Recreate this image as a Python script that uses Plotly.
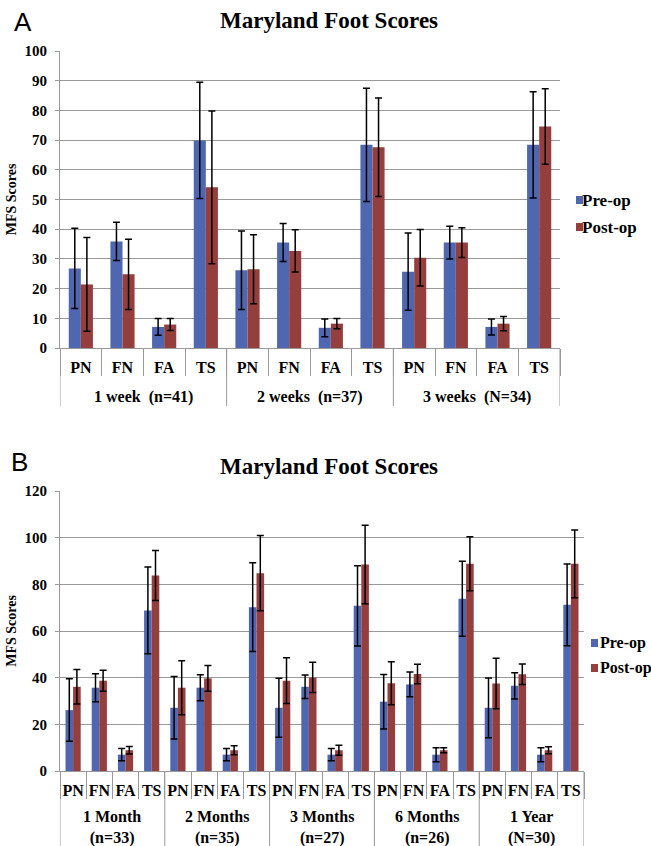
import plotly.graph_objects as go

W, H = 651, 846

categories = ["PN", "FN", "FA", "TS"]
groups_A = ["1 week\u00a0\u00a0(n=41)", "2 weeks\u00a0\u00a0(n=37)", "3 weeks\u00a0\u00a0(N=34)"]
groups_B = ["1 Month<br>(n=33)", "2 Months<br>(n=35)", "3 Months<br>(n=27)",
            "6 Months<br>(n=26)", "1 Year<br>(N=30)"]

pre_A = [26.8, 35.9, 7.1, 69.9, 26.2, 35.5, 6.8, 68.4, 25.7, 35.5, 7.1, 68.4]
pre_A_err = [13.5, 6.4, 2.8, 19.6, 13.2, 6.4, 3.0, 19.1, 13.0, 5.5, 2.7, 17.9]
post_A = [21.4, 24.8, 7.9, 54.1, 26.5, 32.7, 8.2, 67.6, 30.4, 35.5, 8.2, 74.6]
post_A_err = [15.8, 11.8, 2.0, 25.7, 11.6, 7.1, 1.7, 16.6, 9.5, 5.0, 2.4, 12.7]

pre_B = [26.1, 35.7, 7.0, 68.8, 27.1, 35.7, 7.0, 70.2, 27.1, 36.1, 7.0, 70.8,
         29.7, 37.1, 7.0, 73.8, 27.1, 36.5, 7.0, 71.2]
pre_B_err = [13.4, 6.0, 2.6, 18.6, 13.4, 5.6, 2.6, 19.0, 12.6, 5.0, 2.6, 17.2,
             11.7, 5.3, 3.0, 16.1, 12.8, 5.6, 3.0, 17.5]
post_B = [36.1, 38.7, 8.9, 83.8, 35.7, 39.7, 8.9, 84.8, 38.7, 40.1, 8.9, 88.5,
          37.6, 41.6, 8.9, 88.8, 37.5, 41.5, 8.9, 88.8]
post_B_err = [7.4, 4.5, 1.6, 10.7, 11.6, 5.5, 1.9, 16.1, 9.8, 6.5, 2.1, 16.8,
              9.2, 4.2, 1.1, 11.6, 10.8, 4.4, 1.5, 14.5]

series_names = ["Pre-op", "Post-op"]
colors = ["#4F66B1", "#953E3E"]

SERIF = "Liberation Serif"
GRID = "#999999"


def px(x):
    return x / W


def py(y):
    return 1 - y / H


nA = len(groups_A) * len(categories)
nB = len(groups_B) * len(categories)
posA = list(range(nA))
posB = list(range(nB))
labelsA = categories * len(groups_A)
labelsB = categories * len(groups_B)

fig = go.Figure()
err_style = dict(type="data", color="black", thickness=1.5, width=3.5)

for vals, errs, name, col in [(pre_A, pre_A_err, series_names[0], colors[0]),
                              (post_A, post_A_err, series_names[1], colors[1])]:
    fig.add_trace(go.Bar(x=posA, y=vals, name=name, marker_color=col, marker_line_width=0,
                         error_y=dict(array=errs, **err_style),
                         xaxis="x", yaxis="y", showlegend=False))
for vals, errs, name, col in [(pre_B, pre_B_err, series_names[0], colors[0]),
                              (post_B, post_B_err, series_names[1], colors[1])]:
    fig.add_trace(go.Bar(x=posB, y=vals, name=name, marker_color=col, marker_line_width=0,
                         error_y=dict(array=errs, **err_style),
                         xaxis="x2", yaxis="y2", showlegend=False))

tickfont = dict(family=SERIF, size=16, color="black", weight="bold")


def xaxis_cfg(n, labels, dom):
    return dict(domain=dom, range=[-0.5, n - 0.5], tickmode="array", tickvals=list(range(n)),
                ticktext=labels, ticks="", showline=True, linecolor=GRID, linewidth=1,
                tickfont=tickfont, tickangle=0, showgrid=False, zeroline=False,
                ticklabelstandoff=5, automargin=False,
                minor=dict(tickmode="array", tickvals=[i - 0.5 for i in range(n + 1)],
                           ticks="outside", ticklen=27, tickcolor=GRID, tickwidth=1, showgrid=False))


ycommon = dict(showgrid=True, gridcolor=GRID, gridwidth=1, showline=True, linecolor=GRID,
               ticks="outside", ticklen=4, tickcolor=GRID, zeroline=False,
               tickfont=dict(family=SERIF, size=15, color="black", weight="bold"),
               ticklabelstandoff=5, automargin=False)
ytitle = dict(text="MFS Scores", font=dict(family=SERIF, size=14, color="black", weight="bold"),
              standoff=4)

fig.update_layout(
    width=W, height=H,
    margin=dict(l=0, r=0, t=0, b=0),
    paper_bgcolor="white", plot_bgcolor="white",
    barmode="group", bargap=0.42, bargroupgap=0,
    showlegend=False,
    xaxis=dict(anchor="y", **xaxis_cfg(nA, labelsA, [px(60), px(560)])),
    yaxis=dict(domain=[py(348), py(51)], anchor="x", range=[0, 100], dtick=10,
               title=ytitle, **ycommon),
    xaxis2=dict(anchor="y2", **xaxis_cfg(nB, labelsB, [px(60), px(584)])),
    yaxis2=dict(domain=[py(771), py(491)], anchor="x2", range=[0, 120], dtick=20,
                title=ytitle, **ycommon),
)

ann = []
shapes = []

# group labels and group dividers
for groups, xr, yl, ytop, ybot in [(groups_A, "x", 397, 348, 406), (groups_B, "x2", 827, 771, 846)]:
    k = len(categories)
    for gi, g in enumerate(groups):
        ann.append(dict(text=g, x=gi * k + (k - 1) / 2, y=py(yl), xref=xr, yref="paper",
                        xanchor="center", yanchor="middle", showarrow=False,
                        font=dict(family=SERIF, size=16, color="black", weight="bold")))
    for gi in range(len(groups) + 1):
        shapes.append(dict(type="line", xref=xr, yref="paper", x0=gi * k - 0.5, x1=gi * k - 0.5,
                           y0=py(ytop), y1=py(ybot), line=dict(color=GRID, width=1)))

# panel letters
ann.append(dict(text="A", x=px(12), y=py(22), xref="paper", yref="paper", xanchor="left", yanchor="middle",
                showarrow=False, font=dict(family="Liberation Sans", size=26, color="black")))
ann.append(dict(text="B", x=px(9), y=py(462), xref="paper", yref="paper", xanchor="left", yanchor="middle",
                showarrow=False, font=dict(family="Liberation Sans", size=26, color="black")))
# titles
for yy in (21, 466):
    ann.append(dict(text="Maryland Foot Scores", x=px(329), y=py(yy), xref="paper", yref="paper",
                    xanchor="center", yanchor="middle", showarrow=False,
                    font=dict(family=SERIF, size=23, color="black", weight="bold")))

# legends (square + label)
for (sx, tx, ys, fs) in [(576, 580, (200, 227), 17), (591, 598, (643, 668), 16)]:
    for name, col, yy in zip(series_names, colors, ys):
        shapes.append(dict(type="rect", xref="paper", yref="paper",
                           x0=px(sx), x1=px(sx + 7), y0=py(yy + 4), y1=py(yy - 4),
                           fillcolor=col, line_width=0))
        ann.append(dict(text=name, x=px(tx), y=py(yy), xref="paper", yref="paper",
                        xanchor="left", yanchor="middle", showarrow=False,
                        font=dict(family=SERIF, size=fs, color="black", weight="bold")))

fig.update_layout(annotations=ann, shapes=shapes)
fig.write_html("out.html", config={"displayModeBar": False},
               post_script="document.body.style.margin='0';")
